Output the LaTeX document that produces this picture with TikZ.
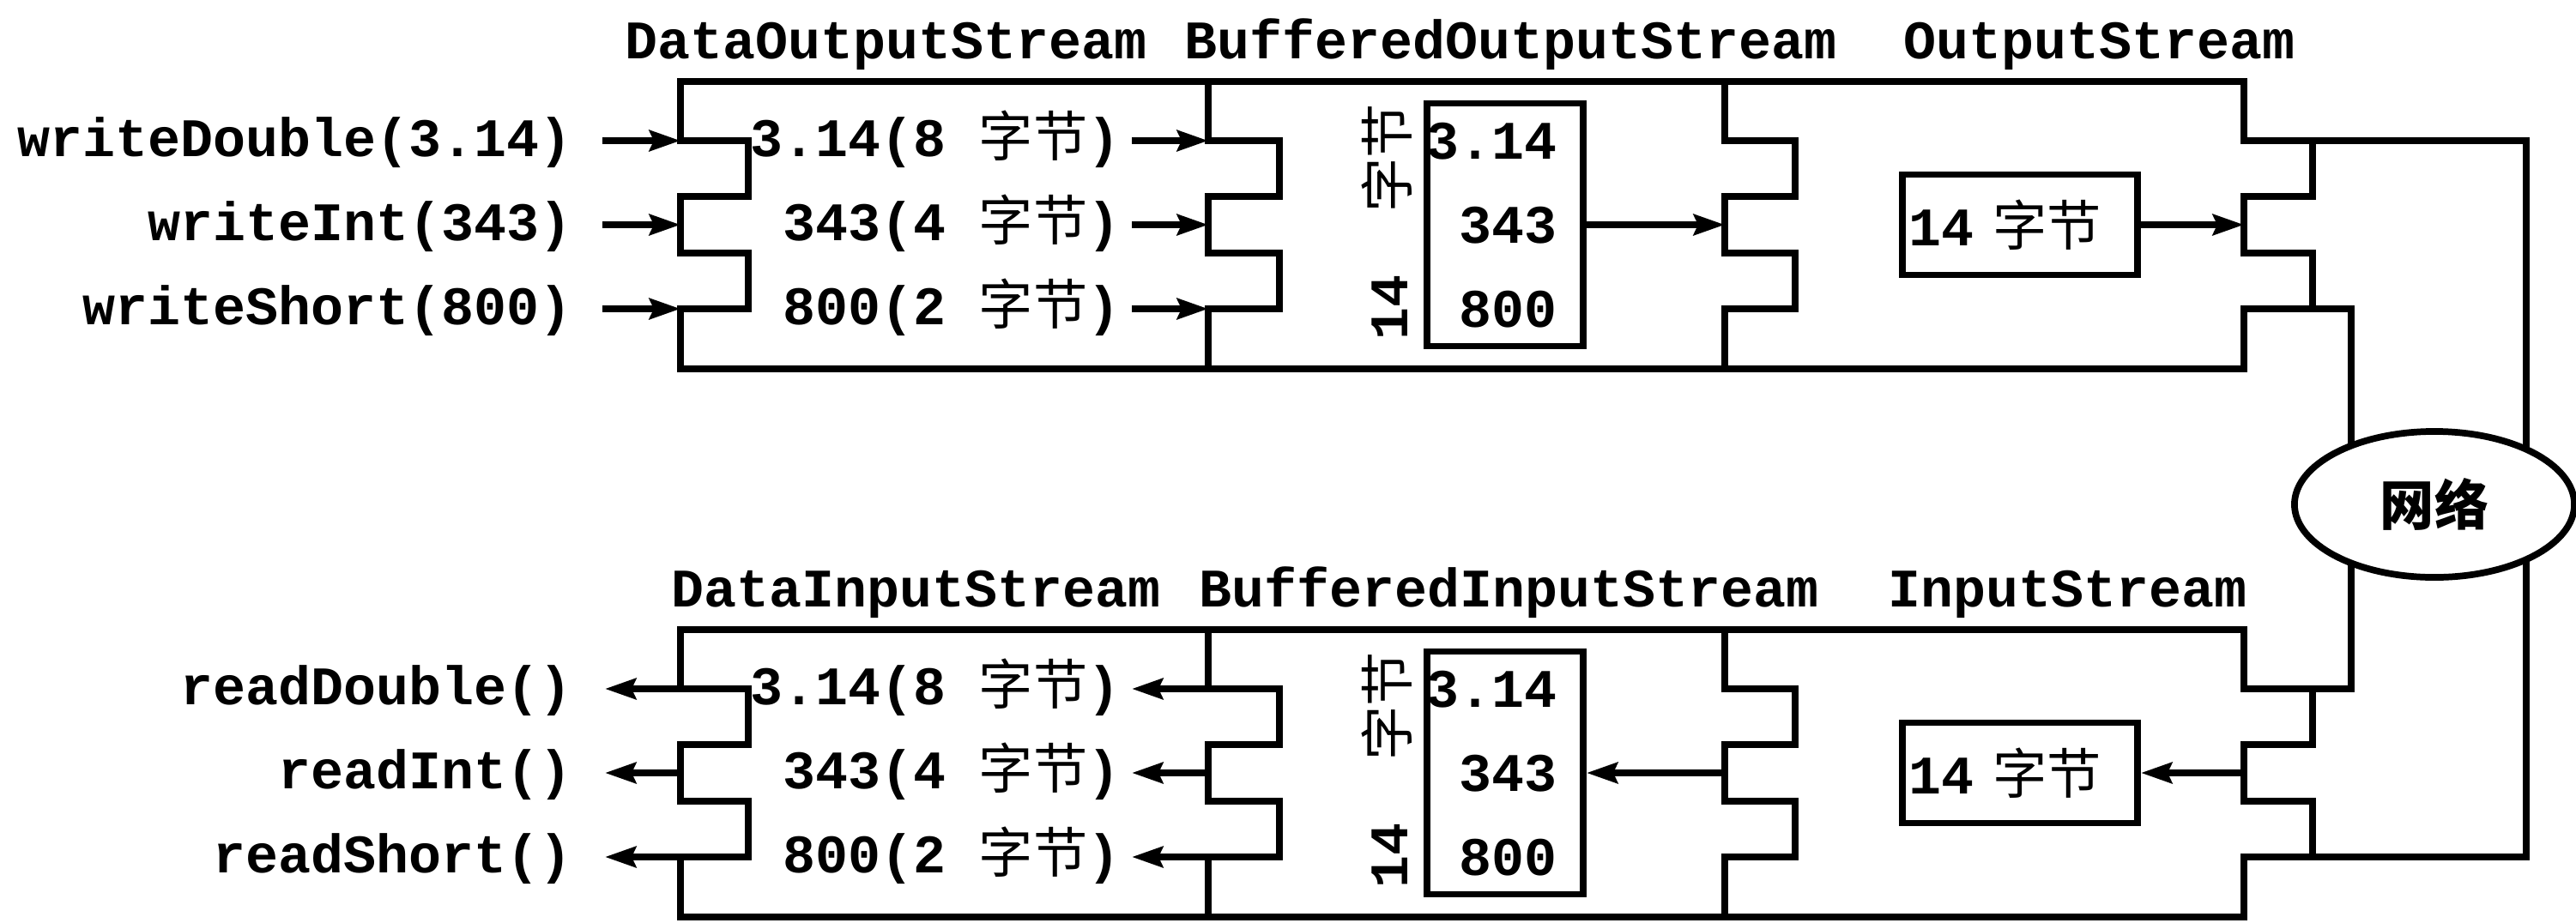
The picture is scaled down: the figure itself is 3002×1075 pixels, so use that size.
\documentclass[tikz,border=0pt]{standalone}
\usepackage{fontspec}
\setmainfont{Liberation Mono}
\newfontfamily\cjk{Noto Sans CJK SC}
\usetikzlibrary{arrows.meta,shapes.geometric,backgrounds}
\tikzset{
  txt/.style={font=\fontsize{18pt}{21pt}\selectfont\bfseries},
  lbl/.style={txt, inner sep=0pt},
  outl/.style={line width=2.4pt, line join=miter},
  comb/.style={line width=2.2pt, line join=miter},
  wire/.style={line width=2.2pt, line join=miter},
  arr/.style={line width=2.2pt, -{Stealth[length=0.36cm,width=0.24cm,inset=0.05cm]}},
  bufbox/.style={draw, line width=2.2pt, minimum width=1.82cm, minimum height=2.83cm, inner sep=0pt},
  bytebox/.style={txt, draw, line width=2.2pt, minimum height=1.17cm, text width=2.58cm, inner sep=0.08cm, align=left},
  netnode/.style={txt, draw, ellipse, fill=white, line width=2.2pt, minimum width=3.26cm, minimum height=1.7cm, inner sep=0pt},
}
\begin{document}
\begin{tikzpicture}[x=0.01cm,y=-0.01cm]
\useasboundingbox (0,0) rectangle (3002,1075);

% ---------------- titles
\node[lbl, anchor=base west] (t1) at (728,68) {DataOutputStream};
\node[lbl, anchor=base west] (t2) at (1380,68) {BufferedOutputStream};
\node[lbl, anchor=base west] (t3) at (2218,68) {OutputStream};
\node[lbl, anchor=base west] (b1) at (782,707) {DataInputStream};
\node[lbl, anchor=base west] (b2) at (1397,707) {BufferedInputStream};
\node[lbl, anchor=base west] (b3) at (2200,707) {InputStream};

% ---------------- top section outline and combs
\draw[outl] (793,95) -- (2615,95) -- (2615,164) -- (2695,164) -- (2695,229) -- (2615,229)
  -- (2615,295) -- (2695,295) -- (2695,360) -- (2615,360) -- (2615,430) -- (793,430)
  -- (793,360) -- (872,360) -- (872,295) -- (793,295) -- (793,229) -- (872,229)
  -- (872,164) -- (793,164) -- cycle;
\draw[comb] (1408,95) -- (1408,164) -- (1491,164) -- (1491,229) -- (1408,229) -- (1408,295)
  -- (1491,295) -- (1491,360) -- (1408,360) -- (1408,430);
\draw[comb] (2010,95) -- (2010,164) -- (2092,164) -- (2092,229) -- (2010,229) -- (2010,295)
  -- (2092,295) -- (2092,360) -- (2010,360) -- (2010,430);

% ---------------- bottom section outline and combs
\draw[outl] (793,734) -- (2615,734) -- (2615,803) -- (2695,803) -- (2695,868) -- (2615,868)
  -- (2615,934) -- (2695,934) -- (2695,999) -- (2615,999) -- (2615,1069) -- (793,1069)
  -- (793,999) -- (872,999) -- (872,934) -- (793,934) -- (793,868) -- (872,868)
  -- (872,803) -- (793,803) -- cycle;
\draw[comb] (1408,734) -- (1408,803) -- (1491,803) -- (1491,868) -- (1408,868) -- (1408,934)
  -- (1491,934) -- (1491,999) -- (1408,999) -- (1408,1069);
\draw[comb] (2010,734) -- (2010,803) -- (2092,803) -- (2092,868) -- (2010,868) -- (2010,934)
  -- (2092,934) -- (2092,999) -- (2010,999) -- (2010,1069);

% ---------------- coordinates on the combs
\coordinate (cL1) at (793,164); \coordinate (cL2) at (793,262); \coordinate (cL3) at (793,360);
\coordinate (cM1) at (1408,164); \coordinate (cM2) at (1408,262); \coordinate (cM3) at (1408,360);
\coordinate (cB1) at (2010,262); \coordinate (cO1) at (2615,262);
\coordinate (dL1) at (793,803); \coordinate (dL2) at (793,901); \coordinate (dL3) at (793,999);
\coordinate (dM1) at (1408,803); \coordinate (dM2) at (1408,901); \coordinate (dM3) at (1408,999);
\coordinate (dB1) at (2010,901); \coordinate (dO1) at (2615,901);

% ---------------- left labels
\node[lbl, anchor=base east] (wD) at (667,182) {writeDouble(3.14)};
\node[lbl, anchor=base east] (wI) at (667,280) {writeInt(343)};
\node[lbl, anchor=base east] (wS) at (667,378) {writeShort(800)};
\node[lbl, anchor=base east] (rD) at (667,821) {readDouble()};
\node[lbl, anchor=base east] (rI) at (667,919) {readInt()};
\node[lbl, anchor=base east] (rS) at (667,1017) {readShort()};
\coordinate (aW1) at (702,164); \coordinate (aW2) at (702,262); \coordinate (aW3) at (702,360);
\coordinate (aR1) at (705,803); \coordinate (aR2) at (705,901); \coordinate (aR3) at (705,999);
\draw[arr] (aW1) -- (cL1);
\draw[arr] (aW2) -- (cL2);
\draw[arr] (aW3) -- (cL3);
\draw[arr] (dL1) -- (aR1);
\draw[arr] (dL2) -- (aR2);
\draw[arr] (dL3) -- (aR3);

% ---------------- data stream labels
\node[lbl, anchor=base east] (d1) at (1306,182) {3.14(8 {\cjk\mdseries 字节})};
\node[lbl, anchor=base east] (d2) at (1306,280) {343(4 {\cjk\mdseries 字节})};
\node[lbl, anchor=base east] (d3) at (1306,378) {800(2 {\cjk\mdseries 字节})};
\node[lbl, anchor=base east] (e1) at (1306,821) {3.14(8 {\cjk\mdseries 字节})};
\node[lbl, anchor=base east] (e2) at (1306,919) {343(4 {\cjk\mdseries 字节})};
\node[lbl, anchor=base east] (e3) at (1306,1017) {800(2 {\cjk\mdseries 字节})};
\coordinate (ad1) at (1319,164); \coordinate (ad2) at (1319,262); \coordinate (ad3) at (1319,360);
\coordinate (ae1) at (1319,803); \coordinate (ae2) at (1319,901); \coordinate (ae3) at (1319,999);
\draw[arr] (ad1) -- (cM1);
\draw[arr] (ad2) -- (cM2);
\draw[arr] (ad3) -- (cM3);
\draw[arr] (dM1) -- (ae1);
\draw[arr] (dM2) -- (ae2);
\draw[arr] (dM3) -- (ae3);

% ---------------- buffers
\node[bufbox] (buf1) at (1754,262) {};
\node[bufbox] (buf2) at (1754,901) {};
\node[lbl, anchor=base east] (v11) at (1815,185) {3.14};
\node[lbl, anchor=base east] (v12) at (1815,283) {343};
\node[lbl, anchor=base east] (v13) at (1815,381) {800};
\node[lbl, anchor=base east] (v21) at (1815,824) {3.14};
\node[lbl, anchor=base east] (v22) at (1815,922) {343};
\node[lbl, anchor=base east] (v23) at (1815,1020) {800};
\node[lbl, rotate=90] (rot1) at (1616,259) {14\hspace{0.73cm}{\cjk\mdseries 字节}};
\node[lbl, rotate=90] (rot2) at (1616,898) {14\hspace{0.73cm}{\cjk\mdseries 字节}};
\draw[arr] (buf1.east) -- (cB1);
\draw[arr] (dB1) -- (buf2.east);

% ---------------- byte boxes
\node[bytebox] (ob1) at (2354,262) {14 {\cjk\mdseries 字节}};
\node[bytebox] (ob2) at (2354,901) {14 {\cjk\mdseries 字节}};
\draw[arr] (ob1.east) -- (cO1);
\draw[arr] (dO1) -- (ob2.east);

% ---------------- network
\node[netnode] (net) at (2837,588) {{\cjk\bfseries 网络}};
\coordinate (Ot1) at (2695,164); \coordinate (Ot2) at (2695,360);
\coordinate (It1) at (2695,803); \coordinate (It2) at (2695,999);
\coordinate (Wr1) at (2944,164); \coordinate (Wr2) at (2944,999);
\coordinate (Wl1) at (2740,360); \coordinate (Wl2) at (2740,803);
\begin{scope}[on background layer]
\draw[wire] (Ot1) -- (Wr1) -- (Wr1 |- net.center);
\draw[wire] (Wr2 |- net.center) -- (Wr2) -- (It2);
\draw[wire] (Ot2) -- (Wl1) -- (Wl1 |- net.center);
\draw[wire] (Wl2 |- net.center) -- (Wl2) -- (It1);
\end{scope}
\end{tikzpicture}
\end{document}
